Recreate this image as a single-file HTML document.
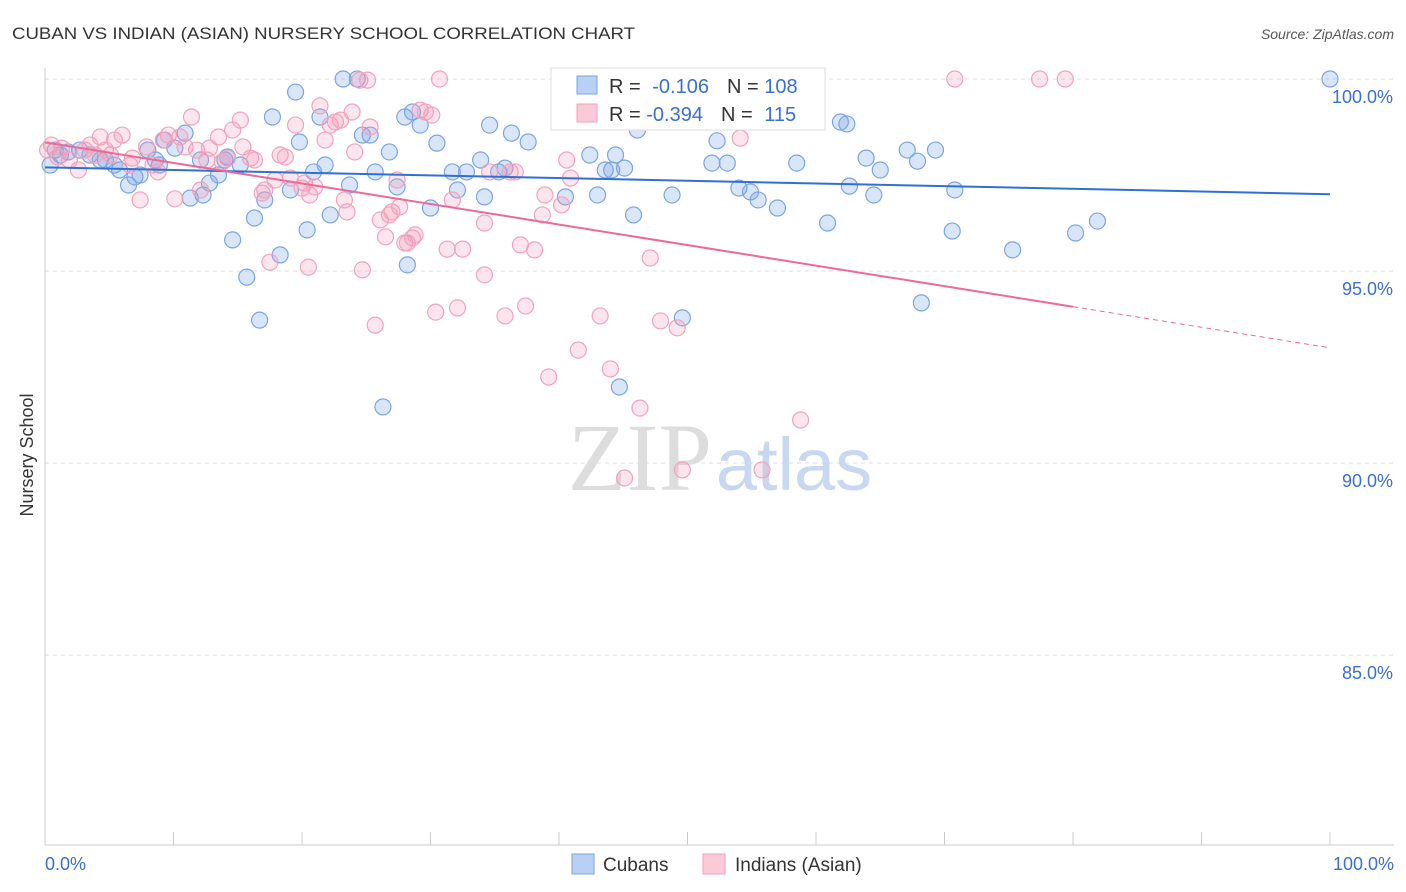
<!DOCTYPE html>
<html><head><meta charset="utf-8"><style>
body{margin:0;background:#fff;font-family:"Liberation Sans",sans-serif;}
svg{display:block}
</style></head><body>
<svg id="chart" width="1406" height="892">
<text x="12" y="39" font-size="17" fill="#333" textLength="623" lengthAdjust="spacingAndGlyphs">CUBAN VS INDIAN (ASIAN) NURSERY SCHOOL CORRELATION CHART</text>
<text x="1394" y="39" font-size="14" fill="#555" font-style="italic" text-anchor="end">Source: ZipAtlas.com</text>
<text transform="translate(33,455) rotate(-90)" font-size="18" fill="#333" text-anchor="middle">Nursery School</text>
<g id="grid"></g>
<text x="720" y="490" font-size="96" fill="#ddd" text-anchor="middle" font-family="Liberation Serif,serif">ZIP<tspan fill="#c8d8f0" font-family="Liberation Sans,sans-serif" font-size="74" dx="4">atlas</tspan></text>
<g id="pts"></g>
<g id="lines"></g>
<g>
<rect x="551" y="68" width="274" height="62" fill="#fff" stroke="#ddd"/>
<rect x="577" y="76" width="20" height="18" fill="#b7d0f3" stroke="#7ba5e3"/>
<rect x="577" y="104" width="20" height="18" fill="#fbc9d8" stroke="#f2a3bc"/>
<text x="609" y="93" font-size="20" fill="#333">R = <tspan fill="#3a6fd0" dx="6">-0.106</tspan><tspan dx="18" fill="#333">N = </tspan><tspan fill="#3a6fd0">108</tspan></text>
<text x="609" y="121" font-size="20" fill="#333">R = <tspan fill="#3a6fd0">-0.394</tspan><tspan dx="18" fill="#333">N = </tspan><tspan fill="#3a6fd0" dx="6">115</tspan></text>
</g>
<g>
<rect x="572" y="854" width="22" height="20" fill="#b7d0f3" stroke="#7ba5e3"/>
<text x="603" y="871" font-size="19" fill="#333">Cubans</text>
<rect x="703" y="854" width="22" height="20" fill="#fbc9d8" stroke="#f2a3bc"/>
<text x="735" y="871" font-size="19" fill="#333">Indians (Asian)</text>
</g>
</svg>
<script>
const yTicks=[100,95,90,85];
const xTickLabels=["0.0%","100.0%"];
const blueX=[0.4,0.8,1.2,1.8,2.7,3.5,4.3,4.7,5.4,5.8,6.5,7.0,7.4,8.0,8.6,8.9,9.3,10.1,10.9,11.3,12.1,12.3,12.8,13.5,14.0,14.2,14.6,15.2,15.7,16.3,16.7,17.1,17.7,18.3,19.1,19.5,19.8,20.4,20.9,21.4,21.8,22.2,23.2,23.7,24.3,24.7,25.3,25.7,26.3,26.8,27.4,28.0,28.2,28.6,29.2,30.0,30.5,31.7,32.1,32.8,33.9,34.2,34.6,35.3,35.8,36.3,37.6,40.5,42.4,43.0,43.6,44.1,44.4,44.7,45.1,45.8,46.1,48.8,49.6,51.0,51.9,52.3,53.1,54.0,54.9,55.5,57.0,58.5,60.9,61.9,62.4,62.6,63.9,64.5,65.0,67.1,67.9,68.2,69.3,70.6,70.8,75.3,80.2,81.9,100];
const blueY=[97.76,98.15,98.02,98.1,98.15,98.02,97.89,97.89,97.76,97.63,97.24,97.45,97.5,98.15,97.89,97.76,98.41,98.2,98.59,96.9,97.89,96.98,97.29,97.5,97.89,97.97,95.81,97.76,94.84,96.38,93.72,96.85,99.01,95.42,97.11,99.66,98.36,96.07,97.58,99.01,97.76,96.46,100,97.24,100,98.54,98.54,97.58,91.46,98.1,97.19,99.01,95.16,99.14,98.8,96.64,98.33,97.58,97.11,97.58,97.89,96.93,98.8,97.58,97.68,98.59,98.36,96.93,98.02,96.98,97.63,97.63,98.02,91.98,97.68,96.46,98.67,96.98,93.78,100,97.81,98.39,97.81,97.16,97.06,96.85,96.64,97.81,96.25,98.88,98.83,97.21,97.94,96.98,97.63,98.15,97.86,94.17,98.15,96.04,97.11,95.55,95.99,96.3,100];
const pinkX=[0.2,0.5,1.0,1.3,1.9,2.6,3.1,3.5,3.9,4.3,4.7,5.1,5.4,6.0,6.6,6.8,7.4,7.9,8.4,8.8,9.2,9.6,10.1,10.5,10.9,11.4,11.8,12.1,12.6,12.8,13.5,13.8,14.2,14.6,15.2,15.4,16.0,16.3,16.9,17.1,17.5,17.9,18.3,18.7,19.1,19.5,20.0,20.2,20.5,20.6,21.0,21.4,21.8,22.2,22.6,23.0,23.3,23.5,23.9,24.1,24.5,24.7,25.1,25.3,25.7,26.1,26.5,26.8,27.0,27.4,27.6,28.0,28.2,28.6,28.8,29.2,29.6,30.1,30.4,30.7,31.3,31.7,32.1,32.5,34.2,34.2,34.6,35.8,36.2,36.6,37.0,37.4,38.1,38.7,38.9,39.2,40.2,40.6,40.9,41.5,43.2,44.0,45.1,46.3,46.9,47.1,47.9,49.2,49.6,54.1,55.8,58.8,70.8,77.4,79.4];
const pinkY=[98.15,98.28,97.97,98.2,97.89,97.63,98.15,98.28,98.02,98.49,98.15,98.02,98.41,98.54,97.76,97.94,96.85,98.23,97.76,97.58,98.41,98.54,96.88,98.49,98.23,99.01,98.15,97.11,97.89,98.2,98.49,97.84,97.94,98.67,98.93,98.23,97.94,97.89,97.03,97.11,95.23,97.37,98.02,97.97,97.42,98.8,97.16,97.29,95.1,96.98,97.19,99.3,98.41,98.8,98.88,98.93,96.85,96.54,99.14,98.1,99.97,95.03,99.97,98.75,93.59,96.33,95.89,96.46,96.54,97.37,96.67,95.73,95.73,95.86,95.94,99.19,99.14,99.06,93.93,100,95.57,96.85,94.04,95.57,94.9,96.25,97.58,93.83,97.58,97.58,95.68,94.09,95.55,96.46,96.98,92.24,96.72,97.89,97.42,92.94,93.83,92.45,89.61,91.43,99.97,95.34,93.7,93.52,89.82,98.46,89.82,91.12,100,100,100];
const blueTrend=[97.7,97.0];
const pinkTrend=[98.35,93.0];
const pinkSolidEnd=80;
const NS="http://www.w3.org/2000/svg";
const X0=45,X1=1330;
function xs(v){return X0+(X1-X0)*v/100;}
function ys(v){return 79+(100-v)*38.4;}
function mk(tag,attrs,parent){const e=document.createElementNS(NS,tag);for(const k in attrs)e.setAttribute(k,attrs[k]);parent.appendChild(e);return e;}
const grid=document.getElementById('grid');
yTicks.forEach(t=>{
 const l=mk('line',{x1:X0,x2:1394,y1:ys(t),y2:ys(t),stroke:'#ddd','stroke-dasharray':'4,4'},grid);
 
 
 const tx=mk('text',{x:1393,y:ys(t)+24,'font-size':18,fill:'#3a6fd0','text-anchor':'end'},grid);
 tx.textContent=t.toFixed(1)+'%';
 
 
});
const ax=mk('line',{x1:X0,x2:X0,y1:68,y2:845,stroke:'#ccc'},grid);


const bx=mk('line',{x1:X0,x2:1394,y1:845,y2:845,stroke:'#ccc'},grid);


for(let i=0;i<=10;i++){
 const t=mk('line',{x1:xs(i*10),x2:xs(i*10),y1:832,y2:845,stroke:'#ccc'},grid);
 
 
}
[[0,'start',45],[100,'end',1394]].forEach((d,i)=>{
 const t=mk('text',{x:d[2],y:870,'font-size':18,fill:'#3a6fd0','text-anchor':d[1]},grid);
 t.textContent=xTickLabels[i];
 
 
});
const pts=document.getElementById('pts');
function drawPts(X,Y,fill,stroke,name){
 X.forEach((x,i)=>{
  const c=mk('circle',{cx:xs(x),cy:ys(Y[i]),r:8,fill:fill,stroke:stroke,'stroke-width':1.2},pts);
  
  
 });
}
drawPts(blueX,blueY,'rgba(120,160,230,0.28)','#7ba5e3','cuban-point');
drawPts(pinkX,pinkY,'rgba(245,150,180,0.25)','#f2a3bc','indian-point');
const lines=document.getElementById('lines');
const bl=mk('line',{x1:xs(0),y1:ys(blueTrend[0]),x2:xs(100),y2:ys(blueTrend[1]),stroke:'#2f6fd6','stroke-width':2},lines);


const pAt=v=>pinkTrend[0]+(pinkTrend[1]-pinkTrend[0])*v/100;
const pl=mk('line',{x1:xs(0),y1:ys(pAt(0)),x2:xs(pinkSolidEnd),y2:ys(pAt(pinkSolidEnd)),stroke:'#ec6a95','stroke-width':2},lines);


const pd=mk('line',{x1:xs(pinkSolidEnd),y1:ys(pAt(pinkSolidEnd)),x2:xs(100),y2:ys(pAt(100)),stroke:'#ec6a95','stroke-width':1,'stroke-dasharray':'5,4'},lines);


</script>
</body></html>
